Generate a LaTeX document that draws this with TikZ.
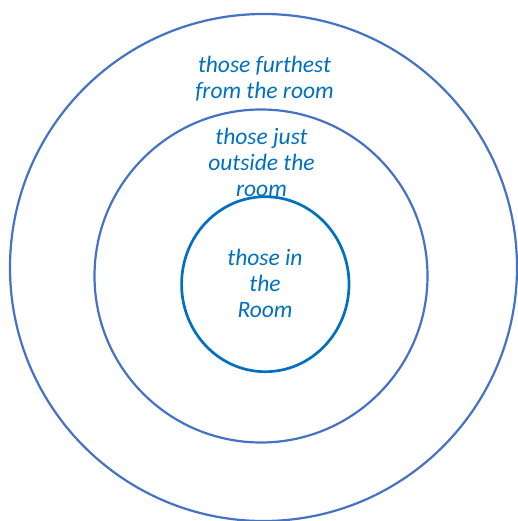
\documentclass[tikz,border=0pt]{standalone}
\usepackage{fontspec}
\setmainfont{Carlito}
\definecolor{ringblue}{HTML}{4472C4}
\definecolor{innerblue}{HTML}{0070C0}
\begin{document}
\begin{tikzpicture}[x=1pt,y=-1pt,
  ring/.style={draw=ringblue,line width=2.2pt},
  innerring/.style={draw=innerblue,line width=2.7pt},
  lbl/.style={text=innerblue,font=\fontsize{23.5}{26}\selectfont\itshape,align=center,inner sep=0pt}]
\useasboundingbox (0,0) rectangle (518,521);
\draw[ring] (263.5,267.5) circle (253.5);
\draw[ring] (261,276) circle (166.5);
\draw[innerring] (265.3,284.2) ellipse (83.7 and 87.5);
\node[lbl] (far) at (264.5,79) {those furthest\\from the room};
\node[lbl] (just) at (261.5,162) {those just\\outside the\\room};
\node[lbl] (in) at (265,283) {those in\\the\\Room};
\end{tikzpicture}
\end{document}
